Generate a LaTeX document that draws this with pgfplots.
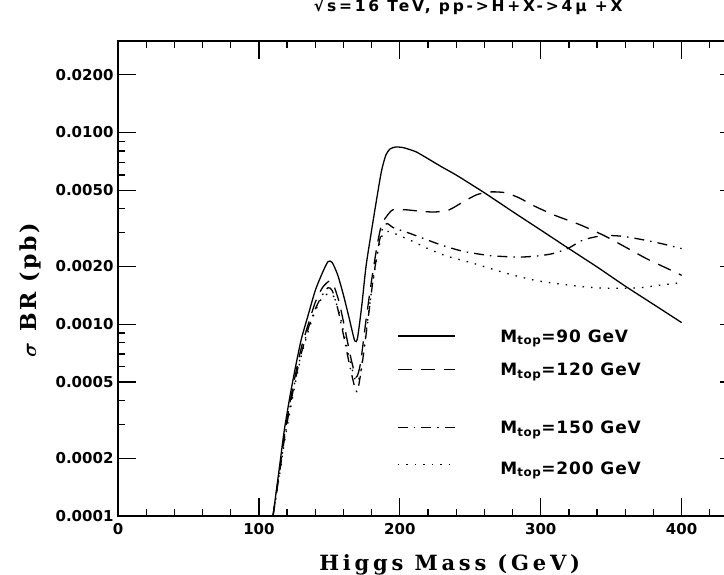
\documentclass[border=0pt]{standalone}
\usepackage{amsmath}
\usepackage{fontspec}
\setmainfont{DejaVu Sans}
\newfontfamily\labfont[LetterSpace=18]{DejaVu Serif}
\newfontfamily\ylabfont[LetterSpace=12]{DejaVu Serif}
\newfontfamily\titlefont[LetterSpace=18]{DejaVu Sans}
\newfontfamily\legfont[LetterSpace=5]{DejaVu Sans}
\usepackage{pgfplots}
\pgfplotsset{compat=1.18}

\begin{document}
\begin{tikzpicture}
\begin{axis}[
  at={(0pt,0pt)}, anchor=south west,
  scale only axis, width=620pt, height=475pt,
  xmin=0, xmax=440, ymin=0.0001, ymax=0.03,
  ymode=log,
  axis line style={line width=1.6pt},
  every tick/.style={line width=1.3pt, black},
  major tick length=18pt, minor tick length=7pt,
  xtick={0,100,200,300,400},
  minor xtick={20,40,60,80,120,140,160,180,220,240,260,280,320,340,360,380,420},
  ytick={0.0001,0.0002,0.0005,0.001,0.002,0.005,0.01,0.02},
  yticklabels={0.0001,0.0002,0.0005,0.0010,0.0020,0.0050,0.0100,0.0200},
  minor ytick={0.0003,0.0004,0.0006,0.0007,0.0008,0.0009,0.003,0.004,0.006,0.007,0.008,0.009},
  log basis y=10,
  /pgf/number format/assume math mode=true,
  ticklabel style={font=\bfseries\fontsize{15}{15}\selectfont},
  xticklabel style={yshift=-4pt},
  yticklabel style={xshift=-1pt},
  xlabel={Higgs Mass (GeV)},
  xlabel style={font=\labfont\bfseries\fontsize{21}{21}\selectfont, at={(axis description cs:0.535,-0.1137)}, anchor=base},
  ylabel={$\boldsymbol{\sigma}$ BR (pb)},
  ylabel style={font=\ylabfont\bfseries\fontsize{22}{22}\selectfont, at={(axis description cs:-0.142,0.476)}, anchor=center},
  title={√s=16 TeV, pp->H+X->4μ +X},
  title style={font=\titlefont\bfseries\fontsize{15.5}{15.5}\selectfont, at={(axis description cs:0.565,1)}, anchor=base, yshift=24pt},
  legend style={at={(0.445,0.40)}, anchor=north west, draw=none, fill=none,
    font=\legfont\bfseries\fontsize{17}{17}\selectfont, row sep=18pt, column sep=45pt,
    nodes={inner sep=0pt}},
  legend cell align=left,
  legend image code/.code={\draw[#1] (0pt,0pt) -- (57pt,0pt);},
]
\addplot[black, line width=1.3pt, smooth, tension=0.4] coordinates {
(110,1.0e-4) (115,1.9e-4) (118,2.8e-4) (122,4.2e-4) (126,6.0e-4) (130,8.3e-4)
(135,1.12e-3) (140,1.5e-3) (145,1.85e-3) (149,2.12e-3) (152,2.1e-3) (156,1.8e-3)
(160,1.42e-3) (164,1.08e-3) (168,8.2e-4) (170,8.5e-4) (173,1.25e-3) (176,2.0e-3)
(180,3.1e-3) (184,4.7e-3) (187,6.3e-3) (190,7.6e-3) (193,8.2e-3) (197,8.4e-3)
(202,8.35e-3) (207,8.15e-3) (212,7.9e-3) (220,7.3e-3) (230,6.6e-3) (240,6.0e-3)
(260,4.85e-3) (280,3.87e-3) (300,3.1e-3) (320,2.48e-3) (340,1.99e-3) (360,1.58e-3)
(380,1.27e-3) (400,1.02e-3)
};
\addlegendentry{\rule[-6pt]{0pt}{20pt}$\mathbf{M}_{\text{\bfseries top}}$=90 GeV}
\addplot[black, line width=1.3pt, smooth, tension=0.4, dash pattern=on 14pt off 9pt] coordinates {
(110,1.0e-4) (115,1.8e-4) (118,2.6e-4) (122,3.9e-4) (126,5.5e-4) (130,7.5e-4)
(135,1.0e-3) (140,1.3e-3) (145,1.55e-3) (150,1.68e-3) (153,1.6e-3) (157,1.3e-3)
(161,9.5e-4) (165,6.8e-4) (169,5.3e-4) (172,6.2e-4) (176,1.05e-3) (180,1.7e-3)
(184,2.6e-3) (187,3.3e-3) (190,3.6e-3) (195,3.95e-3) (205,3.95e-3) (215,3.88e-3)
(225,3.85e-3) (235,3.95e-3) (245,4.35e-3) (255,4.75e-3) (265,4.9e-3) (275,4.85e-3)
(285,4.55e-3) (295,4.15e-3) (310,3.7e-3) (328,3.3e-3) (345,2.9e-3) (357,2.6e-3)
(375,2.2e-3) (392,1.92e-3) (400,1.8e-3)
};
\addlegendentry{\rule[-6pt]{0pt}{20pt}$\mathbf{M}_{\text{\bfseries top}}$=120 GeV}
\addlegendimage{empty legend}
\addlegendentry{\rule{0pt}{5pt}}
\addplot[black, line width=1.3pt, smooth, tension=0.4, dash pattern=on 10pt off 6pt on 1.5pt off 6pt] coordinates {
(110,1.0e-4) (115,1.75e-4) (118,2.5e-4) (122,3.7e-4) (126,5.2e-4) (130,7.0e-4)
(135,9.5e-4) (140,1.2e-3) (145,1.42e-3) (149,1.55e-3) (152,1.5e-3) (156,1.2e-3)
(160,8.8e-4) (164,6.3e-4) (168,4.7e-4) (170,4.5e-4) (173,6.0e-4) (177,1.0e-3)
(181,1.7e-3) (185,2.6e-3) (188,3.2e-3) (191,3.35e-3) (195,3.2e-3) (200,3.1e-3)
(207,2.98e-3) (218,2.78e-3) (230,2.58e-3) (245,2.4e-3) (264,2.28e-3) (285,2.24e-3)
(300,2.28e-3) (310,2.35e-3) (320,2.5e-3) (330,2.75e-3) (344,2.9e-3) (357,2.88e-3)
(370,2.78e-3) (385,2.64e-3) (400,2.48e-3)
};
\addlegendentry{\rule[-6pt]{0pt}{20pt}$\mathbf{M}_{\text{\bfseries top}}$=150 GeV}
\addplot[black, line width=1.3pt, smooth, tension=0.4, dash pattern=on 1.5pt off 7pt] coordinates {
(110,1.0e-4) (115,1.7e-4) (118,2.4e-4) (122,3.5e-4) (126,5.0e-4) (130,6.8e-4)
(135,9.2e-4) (140,1.17e-3) (145,1.38e-3) (150,1.45e-3) (153,1.4e-3) (157,1.15e-3)
(161,8.5e-4) (165,6.3e-4) (169,5.0e-4) (172,5.5e-4) (176,9.0e-4) (180,1.5e-3)
(184,2.3e-3) (187,2.85e-3) (190,3.05e-3) (195,3.0e-3) (207,2.75e-3) (220,2.48e-3)
(233,2.27e-3) (252,2.08e-3) (276,1.84e-3) (295,1.70e-3) (311,1.63e-3) (330,1.57e-3)
(347,1.54e-3) (370,1.55e-3) (385,1.6e-3) (400,1.65e-3)
};
\addlegendentry{\rule[-6pt]{0pt}{27pt}$\mathbf{M}_{\text{\bfseries top}}$=200 GeV}
\end{axis}
\pgfresetboundingbox
\useasboundingbox (-118pt,-59pt) rectangle (606pt,516pt);
\end{tikzpicture}
\end{document}
